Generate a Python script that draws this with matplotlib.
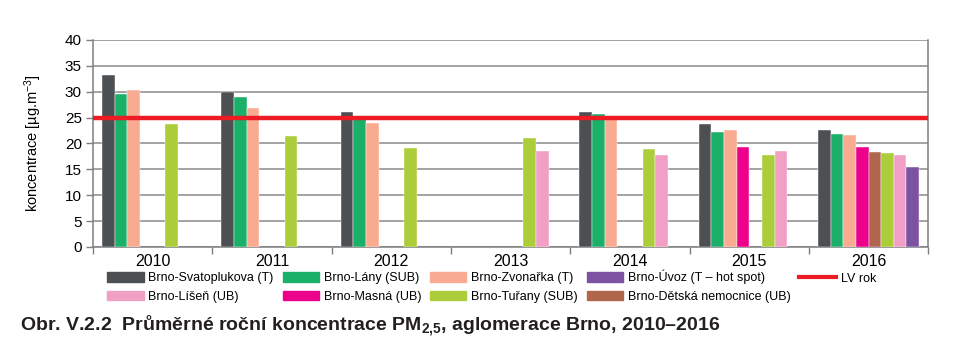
import numpy as np
import matplotlib.pyplot as plt
from matplotlib.lines import Line2D
from matplotlib.patches import Patch

plt.rcParams['font.family'] = ['Liberation Sans', 'DejaVu Sans']
plt.rcParams['mathtext.fontset'] = 'custom'
plt.rcParams['mathtext.rm'] = 'Liberation Sans'
plt.rcParams['mathtext.it'] = 'Liberation Sans'
plt.rcParams['mathtext.bf'] = 'Liberation Sans:bold'

years = ['2010', '2011', '2012', '2013', '2014', '2015', '2016']

# stations in the order they stand within each year group
stations = ['Brno-Svatoplukova (T)', 'Brno-Lány (SUB)', 'Brno-Zvonařka (T)',
            'Brno-Masná (UB)', 'Brno-Dětská nemocnice (UB)', 'Brno-Tuřany (SUB)',
            'Brno-Líšeň (UB)', 'Brno-Úvoz (T – hot spot)']
colors = ['#4d5053', '#1bb06a', '#f8ab91', '#ec008c', '#b0664c', '#aacd39',
          '#f29fc5', '#7d52a3']

nan = np.nan
svatoplukova = [33.2, 29.9, 26.0, nan, 26.1, 23.8, 22.6]
lany = [29.5, 28.9, 25.1, nan, 25.6, 22.2, 21.9]
zvonarka = [30.4, 26.9, 23.9, nan, 25.0, 22.6, 21.6]
masna = [nan, nan, nan, nan, nan, 19.4, 19.4]
detska = [nan, nan, nan, nan, nan, nan, 18.3]
turany = [23.8, 21.5, 19.2, 21.1, 19.0, 17.7, 18.1]
lisen = [nan, nan, nan, 18.6, 17.7, 18.6, 17.7]
uvoz = [nan, nan, nan, nan, nan, nan, 15.4]
series = [svatoplukova, lany, zvonarka, masna, detska, turany, lisen, uvoz]

lv_rok = 25

fig = plt.figure(figsize=(9.75, 3.6), dpi=100)
ax = fig.add_axes([0.0954, 0.314, 0.8566, 0.575])

x = np.arange(len(years))
w = 0.106
for i, (vals, c) in enumerate(zip(series, colors)):
    ax.bar(x + (i - 3.5) * w, vals, width=w, color=c, edgecolor='white',
           linewidth=0.3, zorder=3)

ax.axhline(lv_rok, color='#ed1c24', lw=3.2, zorder=4)

ax.set_xlim(-0.5, len(years) - 0.5)
ax.set_ylim(0, 40)
ax.set_yticks(range(0, 41, 5))
ax.set_xticks(x)
ax.set_xticklabels(years)
ax.set_xticks(np.arange(-0.5, len(years), 1), minor=True)
ax.tick_params(axis='x', which='major', length=0, pad=5, labelsize=11.5)
ax.tick_params(axis='x', which='minor', length=5, color='#7f7f7f', width=1)
ax.tick_params(axis='y', length=5, color='#7f7f7f', width=1, labelsize=11, pad=3)
ax.yaxis.grid(True, color='#8a8a8a', lw=1.1, zorder=0)
ax.set_axisbelow(True)
for s in ['left', 'right', 'bottom']:
    ax.spines[s].set_color('#7f7f7f')
    ax.spines[s].set_linewidth(1.1)
ax.spines['top'].set_visible(False)
ax.set_ylabel('koncentrace [µg.m$^{-3}$]', fontsize=10.5, labelpad=15)

# legend order as in the picture
order = [0, 6, 1, 3, 2, 5, 7, 4]
handles = []
for k in order:
    handles.append(Patch(color=colors[k], label=stations[k]))
handles.append(Line2D([], [], color='#ed1c24', lw=3, label='LV rok'))
fig.legend(handles=handles, ncol=5, loc='upper left', bbox_to_anchor=(0.11, 0.25),
           frameon=False, fontsize=9, handlelength=2.9, handleheight=0.8,
           handletextpad=0.4, columnspacing=0.7, labelspacing=0.5,
           borderaxespad=0, borderpad=0)

fig.text(0.02, 0.095, r'Obr. V.2.2  Průměrné roční koncentrace PM$\mathbf{_{2{,}5}}$, aglomerace Brno, 2010–2016',
         fontsize=14, fontweight='bold', color='#231f20', va='center')

fig.savefig('out.png', dpi=100)
